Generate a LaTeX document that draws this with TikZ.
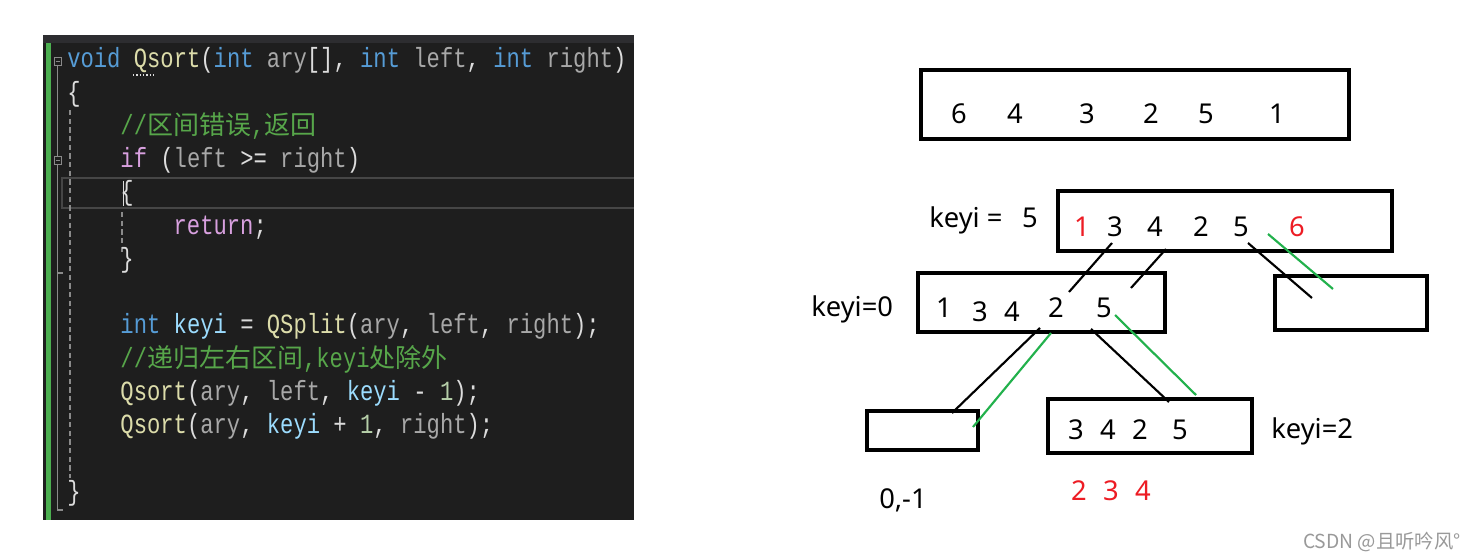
\documentclass[tikz,border=0pt]{standalone}
\usepackage{fontspec}
\usetikzlibrary{fit}
\newfontfamily\codefont[FakeStretch=0.8]{Liberation Mono}
\newfontfamily\cjkfont{Noto Sans CJK SC}
\newfontfamily\diafont{Noto Sans}
\definecolor{cbg}{HTML}{1E1E1E}
\definecolor{cbar}{HTML}{2D2D30}
\definecolor{cgreenbar}{HTML}{4CAF50}
\definecolor{ckw}{HTML}{569CD6}
\definecolor{cfn}{HTML}{DCDCAA}
\definecolor{cpar}{HTML}{A8A8A8}
\definecolor{cvar}{HTML}{9CDCFE}
\definecolor{cctl}{HTML}{D8A0DF}
\definecolor{ccom}{HTML}{57A64A}
\definecolor{cnum}{HTML}{B5CEA8}
\definecolor{cpun}{HTML}{DCDCDC}
\definecolor{cguide}{HTML}{8A8A8A}
\definecolor{chl}{HTML}{464646}
\definecolor{cred}{HTML}{ED1C24}
\definecolor{cgl}{HTML}{22B14C}
\newcommand\Ckw[1]{\textcolor{ckw}{#1}}
\newcommand\Cfn[1]{\textcolor{cfn}{#1}}
\newcommand\Cpar[1]{\textcolor{cpar}{#1}}
\newcommand\Cvar[1]{\textcolor{cvar}{#1}}
\newcommand\Cctl[1]{\textcolor{cctl}{#1}}
\newcommand\Cnum[1]{\textcolor{cnum}{#1}}
\newcommand\Zh[1]{{\cjkfont\fontsize{19.5pt}{20pt}\selectfont #1}}
\tikzset{
  code/.style={anchor=base west, inner sep=0pt, text=cpun,
    font=\codefont\fontsize{20.8pt}{24pt}\selectfont},
  box/.style={draw=black, line width=2.3pt, inner sep=0pt},
  num/.style={anchor=base, inner sep=0pt, font=\diafont\fontsize{20.5pt}{24pt}\selectfont},
  lbl/.style={anchor=base west, inner sep=0pt, font=\diafont\fontsize{20.5pt}{24pt}\selectfont},
  blk/.style={line width=1.6pt, black},
  grn/.style={line width=1.6pt, cgl},
}
\begin{document}
\begin{tikzpicture}[x=0.75pt, y=-0.75pt]
\useasboundingbox (0,0) rectangle (1474,559);
\fill[white] (0,0) rectangle (1474,559);
% ---------- code panel ----------
\fill[cbg] (43,35) rectangle (634,520);
\fill[cbar] (43,35) rectangle (634,43);
\fill[cgreenbar] (46,43) rectangle (51,520);
% current-line highlight
\draw[line width=1.2pt, chl] (634,178) -- (62,178) -- (62,208) -- (634,208);
% fold icons and outline lines
\draw[cguide, line width=0.7pt] (54,57) rectangle (61,65);
\draw[cguide, line width=0.7pt] (55.5,61) -- (59.5,61);
\draw[cguide, line width=0.7pt] (54,156) rectangle (61,164);
\draw[cguide, line width=0.7pt] (55.5,160) -- (59.5,160);
\draw[cguide, line width=0.8pt] (57.5,65) -- (57.5,156);
\draw[cguide, line width=0.8pt] (57.5,164) -- (57.5,510) -- (63,510);
\draw[cguide, line width=0.8pt] (57.5,273) -- (63,273);
% indentation guides
\draw[cguide, line width=0.8pt, dash pattern=on 4pt off 2.5pt] (70,110) -- (70,478);
\draw[cguide, line width=0.8pt, dash pattern=on 4pt off 2.5pt] (122,212) -- (122,252);
% cursor
\draw[cpun, line width=0.6pt] (123,181) -- (123,206);
% dotted underline under Qsort
\draw[cpun, line width=0.8pt, dash pattern=on 1pt off 1.5pt] (133,75) -- (154,75);
% code lines
\node[code] (l0) at (67,68) {\Ckw{void} \Cfn{Qsort}(\Ckw{int} \Cpar{ary}[], \Ckw{int} \Cpar{left}, \Ckw{int} \Cpar{right})};
\node[code] (l1) at (67,101.25) {\{};
\node[code, text=ccom] (l2) at (120.2,134.5) {//\Zh{区间错误},\Zh{返回}};
\node[code] (l3) at (120.2,167.75) {\Cctl{if} (\Cpar{left} >= \Cpar{right})};
\node[code] (l4) at (120.2,201) {\{};
\node[code] (l5) at (173.4,234.25) {\Cctl{return};};
\node[code] (l6) at (120.2,267.5) {\}};
\node[code] (l8) at (120.2,334) {\Ckw{int} \Cvar{keyi} = \Cfn{QSplit}(\Cpar{ary}, \Cpar{left}, \Cpar{right});};
\node[code, text=ccom] (l9) at (120.2,367.25) {//\Zh{递归左右区间},keyi\Zh{处除外}};
\node[code] (l10) at (120.2,400.5) {\Cfn{Qsort}(\Cpar{ary}, \Cpar{left}, \Cvar{keyi} - \Cnum{1});};
\node[code] (l11) at (120.2,433.75) {\Cfn{Qsort}(\Cpar{ary}, \Cvar{keyi} + \Cnum{1}, \Cpar{right});};
\node[code] (l13) at (67,500.25) {\}};
% ---------- diagram ----------
\node[box, fit={(921,70) (1349,139)}] (A) {};
\node[box, fit={(1058,191) (1392,251)}] (B) {};
\node[box, fit={(918,273) (1165,332)}] (C) {};
\node[box, fit={(1275,276) (1427,330)}] (D) {};
\node[box, fit={(867,411) (978,450)}] (E) {};
\node[box, fit={(1048,399) (1252,453)}] (F) {};
% box A digits
\node[num] (a1) at (959,124) {6};
\node[num] (a2) at (1015,124) {4};
\node[num] (a3) at (1087,124) {3};
\node[num] (a4) at (1151,124) {2};
\node[num] (a5) at (1206,124) {5};
\node[num] (a6) at (1277,124) {1};
% box B
\node[lbl] (kb) at (929,228) {keyi =};
\node[num] (kb5) at (1030,228) {5};
\node[num, text=cred] (b1) at (1082,237) {1};
\node[num] (b2) at (1115,237) {3};
\node[num] (b3) at (1155,237) {4};
\node[num] (b4) at (1201,237) {2};
\node[num] (b5) at (1241,237) {5};
\node[num, text=cred] (b6) at (1297,237) {6};
% box C
\node[lbl] (kc) at (811,317) {keyi=0};
\node[num] (c1) at (944,318) {1};
\node[num] (c2) at (980,322) {3};
\node[num] (c3) at (1012,322) {4};
\node[num] (c4) at (1056,318) {2};
\node[num] (c5) at (1104,318) {5};
% box F
\node[num] (f1) at (1076,440) {3};
\node[num] (f2) at (1108,440) {4};
\node[num] (f3) at (1140,440) {2};
\node[num] (f4) at (1180,440) {5};
\node[lbl] (kf) at (1271,438) {keyi=2};
\node[lbl] (e0) at (879,508) {0,-1};
\node[num, text=cred] (r1) at (1079,500) {2};
\node[num, text=cred] (r2) at (1111,500) {3};
\node[num, text=cred] (r3) at (1143,500) {4};
% connectors
\coordinate (p1a) at (1112,243); \coordinate (p1b) at (1069,292);
\coordinate (p2a) at (1166,249); \coordinate (p2b) at (1131,288);
\coordinate (p3a) at (1248,243); \coordinate (p3b) at (1312,298);
\coordinate (g1a) at (1268,234); \coordinate (g1b) at (1333,289);
\coordinate (p4a) at (1040,328); \coordinate (p4b) at (952,413);
\coordinate (g2a) at (1051,333); \coordinate (g2b) at (973,427);
\coordinate (p5a) at (1091,329); \coordinate (p5b) at (1169,402);
\coordinate (g3a) at (1115,315); \coordinate (g3b) at (1196,395);
\draw[blk] (p1a) -- (p1b);
\draw[blk] (p2a) -- (p2b);
\draw[blk] (p3a) -- (p3b);
\draw[grn] (g1a) -- (g1b);
\draw[blk] (p4a) -- (p4b);
\draw[grn] (g2a) -- (g2b);
\draw[blk] (p5a) -- (p5b);
\draw[grn] (g3a) -- (g3b);
% watermark
\node[anchor=base east, inner sep=0pt, text=black!40, font=\cjkfont\fontsize{14.5pt}{16pt}\selectfont] (wm) at (1461,548) {CSDN @且听吟风°};
\end{tikzpicture}
\end{document}
